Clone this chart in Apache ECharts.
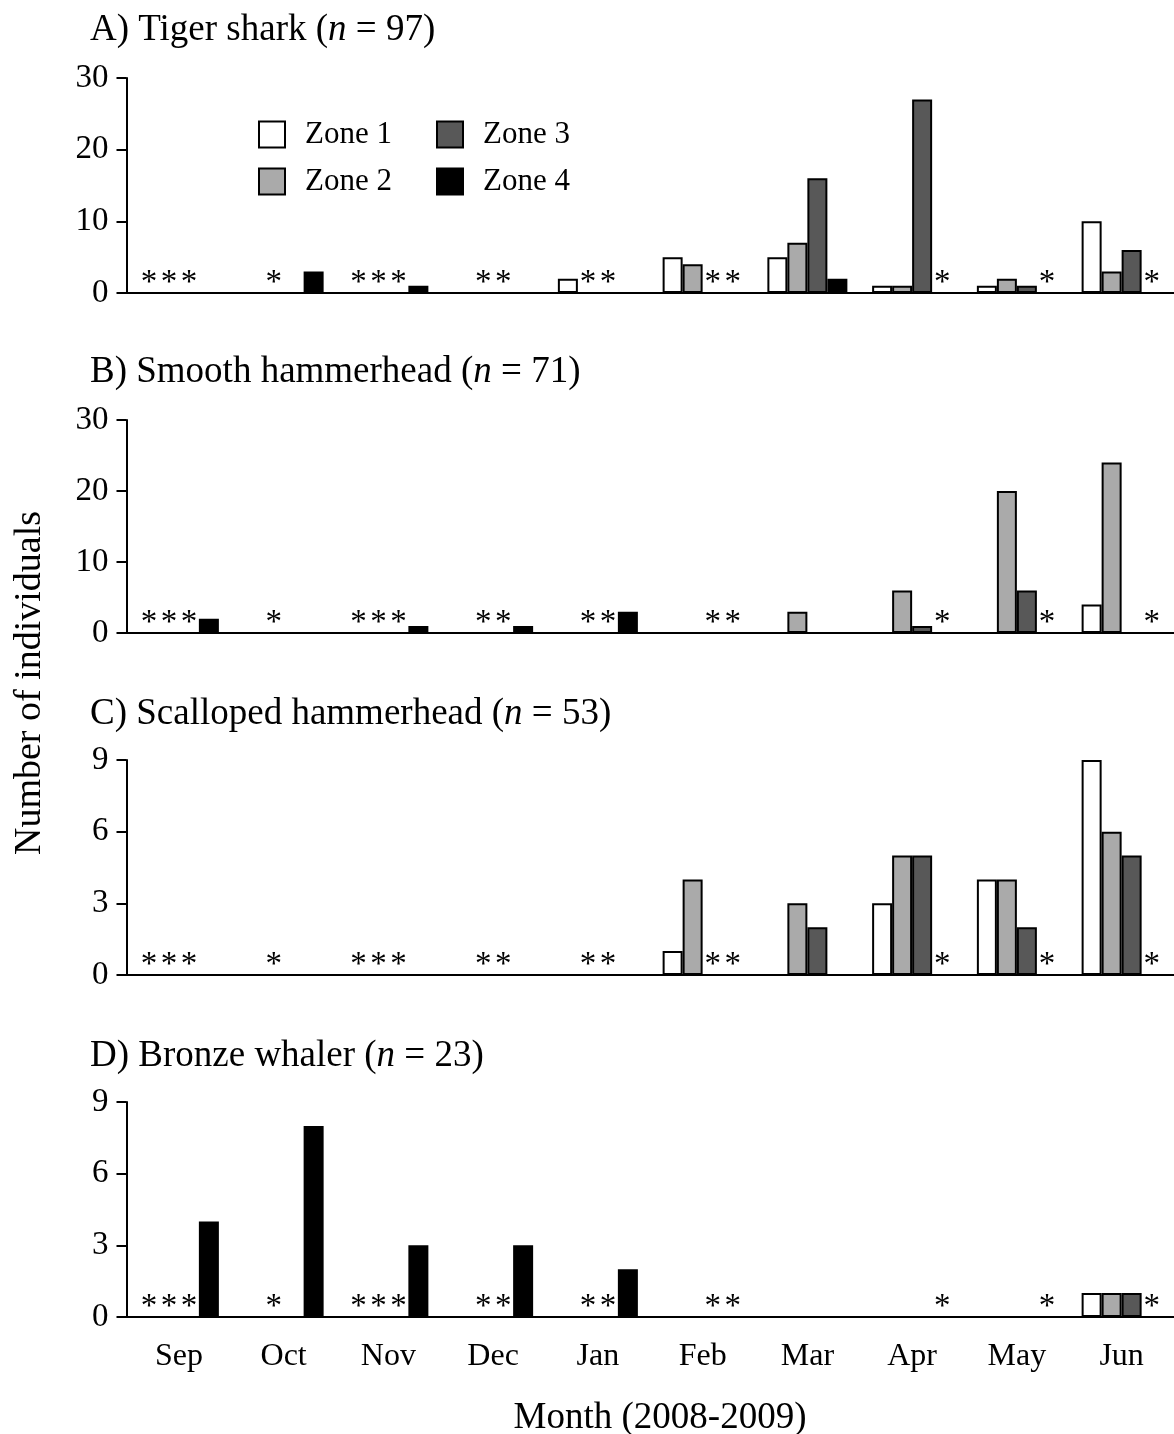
<!DOCTYPE html>
<html>
<head>
<meta charset="utf-8">
<title>Shark catches by month and zone</title>
<script src="https://cdn.jsdelivr.net/npm/echarts@6/dist/echarts.min.js"></script>
<style>
  html, body { margin: 0; padding: 0; background: #fff; }
  #chart { width: 1174px; height: 1434px; }
</style>
</head>
<body>
<div id="chart"></div>
<script>
// Months sampled (2008-2009)
const months = ['Sep', 'Oct', 'Nov', 'Dec', 'Jan', 'Feb', 'Mar', 'Apr', 'May', 'Jun'];
const zones = ['Zone 1', 'Zone 2', 'Zone 3', 'Zone 4'];

// 1 = zone not sampled in that month (drawn as an asterisk)
const notSampledZone1 = [1, 0, 1, 0, 0, 0, 0, 0, 0, 0];
const notSampledZone2 = [1, 1, 1, 1, 1, 0, 0, 0, 0, 0];
const notSampledZone3 = [1, 0, 1, 1, 1, 1, 0, 0, 0, 0];
const notSampledZone4 = [0, 0, 0, 0, 0, 1, 0, 1, 1, 1];

// A) Tiger shark
const tigerZone1 = [0, 0, 0, 0, 2, 5, 5, 1, 1, 10];
const tigerZone2 = [0, 0, 0, 0, 0, 4, 7, 1, 2, 3];
const tigerZone3 = [0, 0, 0, 0, 0, 0, 16, 27, 1, 6];
const tigerZone4 = [0, 3, 1, 0, 0, 0, 2, 0, 0, 0];

// B) Smooth hammerhead
const smoothZone1 = [0, 0, 0, 0, 0, 0, 0, 0, 0, 4];
const smoothZone2 = [0, 0, 0, 0, 0, 0, 3, 6, 20, 24];
const smoothZone3 = [0, 0, 0, 0, 0, 0, 0, 1, 6, 0];
const smoothZone4 = [2, 0, 1, 1, 3, 0, 0, 0, 0, 0];

// C) Scalloped hammerhead
const scallopedZone1 = [0, 0, 0, 0, 0, 1, 0, 3, 4, 9];
const scallopedZone2 = [0, 0, 0, 0, 0, 4, 3, 5, 4, 6];
const scallopedZone3 = [0, 0, 0, 0, 0, 0, 2, 5, 2, 5];
const scallopedZone4 = [0, 0, 0, 0, 0, 0, 0, 0, 0, 0];

// D) Bronze whaler
const bronzeZone1 = [0, 0, 0, 0, 0, 0, 0, 0, 0, 1];
const bronzeZone2 = [0, 0, 0, 0, 0, 0, 0, 0, 0, 1];
const bronzeZone3 = [0, 0, 0, 0, 0, 0, 0, 0, 0, 1];
const bronzeZone4 = [4, 8, 3, 3, 2, 0, 0, 0, 0, 0];

// Panel headings: label before the italic n, and the count
const panelLabels = ['A) Tiger shark', 'B) Smooth hammerhead', 'C) Scalloped hammerhead', 'D) Bronze whaler'];
const panelCounts = [97, 71, 53, 23];

// y-axis ranges per panel
const yMax = [30, 30, 9, 9];
const yStep = [10, 10, 3, 3];

const panels = [
  [tigerZone1, tigerZone2, tigerZone3, tigerZone4],
  [smoothZone1, smoothZone2, smoothZone3, smoothZone4],
  [scallopedZone1, scallopedZone2, scallopedZone3, scallopedZone4],
  [bronzeZone1, bronzeZone2, bronzeZone3, bronzeZone4]
];
const notSampled = [notSampledZone1, notSampledZone2, notSampledZone3, notSampledZone4];

const FONT = '"Liberation Serif", "Times New Roman", serif';
const zoneColors = ['#ffffff', '#aaaaaa', '#585858', '#000000'];

// Layout
const gridLeft = 126.5;
const gridWidth = 1052;
const gridTops = [78, 420, 760, 1102];
const gridHeights = [215, 213, 215, 215];
const titleTops = [4, 346, 688, 1030];

const grids = [], xAxes = [], yAxes = [], titles = [], series = [];

for (let p = 0; p < 4; p++) {
  grids.push({ left: gridLeft, top: gridTops[p], width: gridWidth, height: gridHeights[p], containLabel: false });
  xAxes.push({
    type: 'category',
    gridIndex: p,
    data: months,
    axisLine: { show: true, lineStyle: { color: '#000', width: 2 } },
    axisTick: { show: false },
    axisLabel: {
      show: p === 3,
      margin: 24,
      fontSize: 32,
      fontFamily: FONT,
      color: '#000'
    },
    splitLine: { show: false }
  });
  yAxes.push({
    type: 'value',
    gridIndex: p,
    min: 0,
    max: yMax[p],
    interval: yStep[p],
    axisLine: { show: true, lineStyle: { color: '#000', width: 2 } },
    axisTick: { show: true, inside: false, length: 10, lineStyle: { color: '#000', width: 2 } },
    axisLabel: { margin: 18, fontSize: 33, fontFamily: FONT, color: '#000' },
    splitLine: { show: false }
  });
  titles.push({
    left: 85,
    top: titleTops[p],
    text: '{r|' + panelLabels[p] + ' (}{i|n}{r| = ' + panelCounts[p] + ')}',
    textStyle: {
      fontWeight: 'normal',
      rich: {
        r: { fontFamily: FONT, fontSize: 37, fontWeight: 'normal', color: '#000', lineHeight: 43 },
        i: { fontFamily: FONT, fontSize: 37, fontWeight: 'normal', fontStyle: 'italic', color: '#000', lineHeight: 43 }
      }
    }
  });
  for (let z = 0; z < 4; z++) {
    const values = panels[p][z];
    const data = values.map((v, i) => {
      if (notSampled[z][i]) {
        return {
          value: 0,
          itemStyle: { borderWidth: 0, color: 'transparent' },
          label: {
            show: true,
            formatter: '*',
            position: 'top',
            distance: -7,
            fontSize: 33,
            fontFamily: FONT,
            color: '#000'
          }
        };
      }
      if (v === 0) return '-';
      return v;
    });
    series.push({
      type: 'bar',
      name: zones[z],
      xAxisIndex: p,
      yAxisIndex: p,
      data: data,
      barWidth: 20,
      barGap: '0%',
      itemStyle: { color: zoneColors[z], borderColor: '#000', borderWidth: 2 },
      label: { show: false },
      emphasis: { disabled: true },
      z: 2
    });
  }
}

const legendText = { fontSize: 31, fontFamily: FONT, color: '#000', lineHeight: 26, padding: [0, 0, 0, 15] };
const option = {
  backgroundColor: '#fff',
  animation: false,
  title: titles,
  grid: grids,
  xAxis: xAxes,
  yAxis: yAxes,
  legend: [
    {
      orient: 'vertical', left: 256, top: 117, padding: 2,
      data: ['Zone 1', 'Zone 2'],
      icon: 'rect', itemWidth: 26, itemHeight: 26, itemGap: 16,
      itemStyle: { borderColor: '#000', borderWidth: 2 },
      textStyle: legendText, selectedMode: false
    },
    {
      orient: 'vertical', left: 434, top: 117, padding: 2,
      data: ['Zone 3', 'Zone 4'],
      icon: 'rect', itemWidth: 26, itemHeight: 26, itemGap: 16,
      itemStyle: { borderColor: '#000', borderWidth: 2 },
      textStyle: legendText, selectedMode: false
    }
  ],
  graphic: [
    {
      type: 'text',
      x: 30, y: 683,
      rotation: Math.PI / 2,
      style: {
        text: 'Number of individuals',
        font: '38px ' + FONT,
        fill: '#000',
        align: 'center',
        verticalAlign: 'middle'
      }
    },
    {
      type: 'text',
      x: 660, y: 1418,
      style: {
        text: 'Month (2008-2009)',
        font: '37px ' + FONT,
        fill: '#000',
        align: 'center',
        verticalAlign: 'middle'
      }
    }
  ],
  series: series
};

const chart = echarts.init(document.getElementById('chart'), null, { renderer: 'canvas' });
chart.setOption(option);
</script>
</body>
</html>
